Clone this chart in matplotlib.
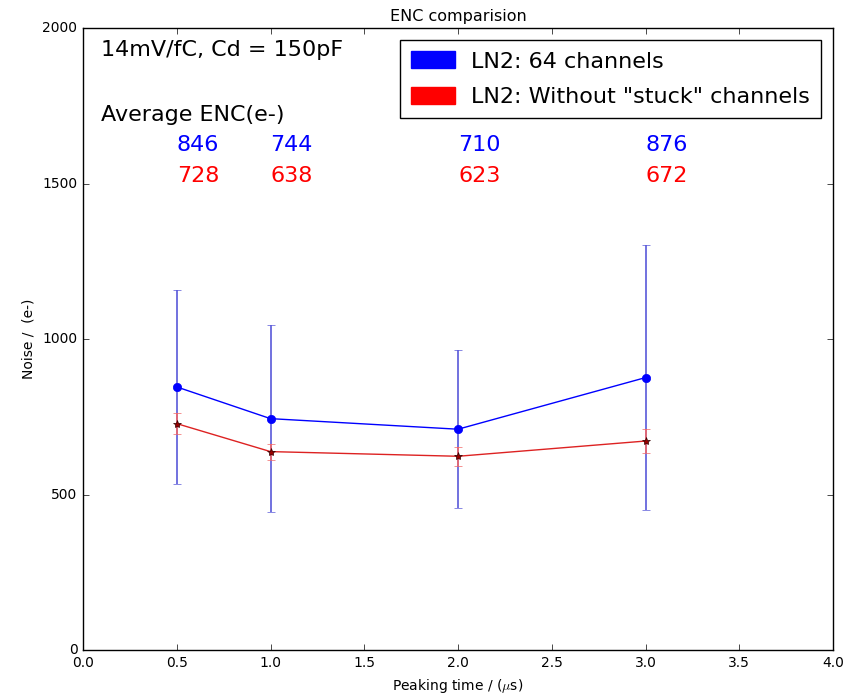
import matplotlib
matplotlib.use("Agg")
import matplotlib.pyplot as plt
import matplotlib.patches as mpatches

plt.style.use('classic')

peaking = [0.5, 1.0, 2.0, 3.0]
enc_all = [846, 744, 710, 876]
err_all = [313, 300, 254, 426]
enc_clean = [728, 638, 623, 672]
err_clean = [34, 26, 30, 40]

fig = plt.figure(figsize=(8.53, 6.95), dpi=100, facecolor='white')
ax = fig.add_axes([0.0973, 0.0647, 0.8793, 0.895])

ax.errorbar(peaking, enc_all, yerr=err_all, fmt='o-', color='blue', mec='blue',
            ms=6, ecolor=(0.35, 0.35, 0.85), capsize=3, lw=1, elinewidth=1.2)
ax.errorbar(peaking, enc_clean, yerr=err_clean, fmt='*-', color='#dd2222', mfc='#990000',
            mec='#330000', ms=6, ecolor=(0.95, 0.4, 0.4), capsize=3, lw=1, elinewidth=1.2)

ax.set_xlim(0, 4.0)
ax.set_ylim(0, 2000)
ax.set_xticks([0, 0.5, 1.0, 1.5, 2.0, 2.5, 3.0, 3.5, 4.0])
ax.set_yticks([0, 500, 1000, 1500, 2000])
ax.tick_params(labelsize=10)
ax.set_title('ENC comparision', fontsize=11.5)
ax.set_xlabel(r'Peaking time / ($\mu$s)', fontsize=10)
ax.set_ylabel('Noise /  (e-)', fontsize=10)

ax.text(0.096, 1929, '14mV/fC, Cd = 150pF', fontsize=16, va='center', ha='left')
ax.text(0.096, 1720, 'Average ENC(e-)', fontsize=16, va='center', ha='left')
for x, a, c in zip(peaking, enc_all, enc_clean):
    ax.text(x, 1624, str(a), color='blue', fontsize=16, va='center', ha='left')
    ax.text(x, 1524, str(c), color='red', fontsize=16, va='center', ha='left')

handles = [mpatches.Patch(color='blue', label='LN2: 64 channels'),
           mpatches.Patch(color='red', label='LN2: Without "stuck" channels')]
ax.legend(handles=handles, loc='upper right', fontsize=16, borderaxespad=0.55,
          handlelength=2.0, handleheight=0.8, handletextpad=0.7, borderpad=0.5,
          labelspacing=0.7)

fig.savefig('out.png', dpi=100, facecolor='white')
